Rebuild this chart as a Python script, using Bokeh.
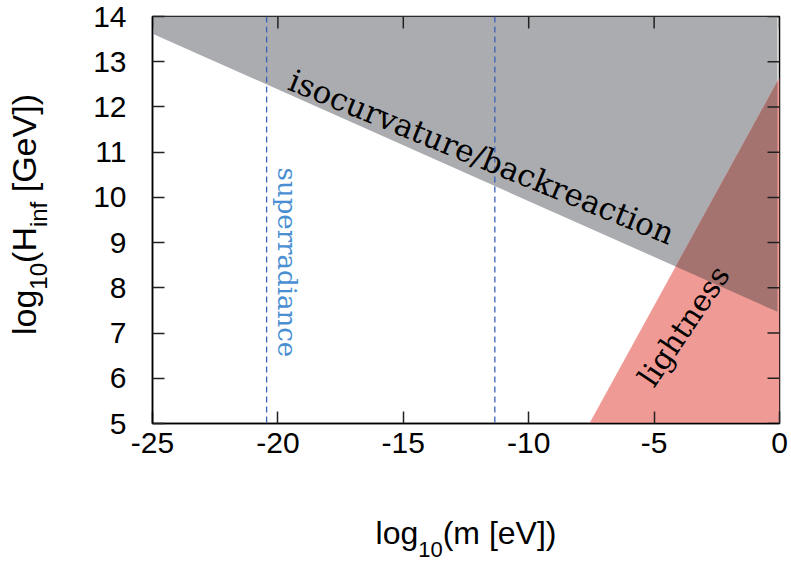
from bokeh.plotting import figure
from bokeh.models import Label, Span, FixedTicker
from bokeh.layouts import row, column
from bokeh.core.properties import value
from bokeh.embed import file_html
from bokeh.resources import INLINE

# ---- data ----
x_start, x_end = -25, 0
y_start, y_end = 5, 14
x_ticks = [-25, -20, -15, -10, -5, 0]
x_tick_labels = ["-25", "-20", "-15", "-10", "-5", "0"]
y_ticks = [5, 6, 7, 8, 9, 10, 11, 12, 13, 14]
y_tick_labels = ["5", "6", "7", "8", "9", "10", "11", "12", "13", "14"]

# isocurvature/backreaction bound (excluded above the line)
iso_x = [-25.0, -0.08]
iso_y = [13.62, 7.47]
# lightness bound (excluded right of the line)
light_x = [-7.58, 0.0]
light_y = [5.0, 12.65]
# superradiance window edges
superrad_x = [-20.45, -11.35]

GRAY = "#abacaf"
RED = "#ef9a94"
OVERLAP = "#a47370"
BLUE_LINE = "#3a62b8"
BLUE_TEXT = "#4a8fd2"
TICK = "#222222"

def iso(x):
    return iso_y[0] + (iso_y[1] - iso_y[0]) * (x - iso_x[0]) / (iso_x[1] - iso_x[0])

def light(x):
    return light_y[0] + (light_y[1] - light_y[0]) * (x - light_x[0]) / (light_x[1] - light_x[0])

s1 = (iso_y[1] - iso_y[0]) / (iso_x[1] - iso_x[0])
s2 = (light_y[1] - light_y[0]) / (light_x[1] - light_x[0])
xi = (light_y[0] - s2 * light_x[0] - iso_y[0] + s1 * iso_x[0]) / (s1 - s2)
yi = iso(xi)

# ---- layout sizes (pixels) ----
TOTAL_W, TOTAL_H = 791, 563
YT_W = 70
XT_H = 75
MAIN_W = TOTAL_W - YT_W
MAIN_H = TOTAL_H - XT_H

p = figure(width=MAIN_W, height=MAIN_H, output_backend="svg", toolbar_location=None,
           x_range=(x_start, x_end), y_range=(y_start, y_end), title=None,
           min_border_left=82, min_border_right=12, min_border_top=16, min_border_bottom=65)
p.grid.visible = False
p.background_fill_color = "white"
p.border_fill_color = "white"
p.outline_line_color = "black"
p.outline_line_width = 1.5

p.patch([iso_x[0], iso_x[1], iso_x[1], iso_x[0]], [iso_y[0], iso_y[1], y_end, y_end],
        fill_color=GRAY, line_color=None)
p.patch([light_x[0], light_x[1], light_x[1]], [light_y[0], light_y[1], y_start],
        fill_color=RED, line_color=None)
p.patch([xi, iso_x[1], iso_x[1]], [yi, light(iso_x[1]), iso(iso_x[1])],
        fill_color=OVERLAP, line_color=None)

for xv in superrad_x:
    p.add_layout(Span(location=xv, dimension="height", line_color=BLUE_LINE,
                      line_width=1.3, line_dash="6 4"))

p.xaxis.ticker = FixedTicker(ticks=x_ticks)
p.yaxis.ticker = FixedTicker(ticks=y_ticks)
p.xaxis.major_label_overrides = dict(zip(x_ticks, x_tick_labels))
p.yaxis.major_label_overrides = dict(zip(y_ticks, y_tick_labels))
for ax in (p.xaxis[0], p.yaxis[0]):
    ax.major_tick_in = 12
    ax.major_tick_out = 0
    ax.minor_tick_in = 0
    ax.minor_tick_out = 0
    ax.major_tick_line_color = TICK
    ax.major_tick_line_width = 1.5
    ax.axis_line_color = "black"
    ax.axis_line_width = 1.5
    ax.major_label_text_font = "Liberation Sans"
    ax.major_label_text_font_size = "30px"
    ax.major_label_text_color = "black"
p.xaxis.major_label_standoff = 9
p.yaxis.major_label_standoff = 26

# mirrored inward ticks on top and right
p.ray(x=x_ticks, y=[y_end] * len(x_ticks), length=12, length_units="screen",
      angle=-90, angle_units="deg", line_color=TICK, line_width=1.5)
p.ray(x=[x_end] * len(y_ticks), y=y_ticks, length=12, length_units="screen",
      angle=180, angle_units="deg", line_color=TICK, line_width=1.5)

# region labels
p.add_layout(Label(x=-19.50, y=12.62, text="isocurvature/backreaction", angle=-22.2,
                   angle_units="deg", text_font="DejaVu Serif", text_font_size="31px",
                   text_color="black", text_align="left", text_baseline="alphabetic"))
p.add_layout(Label(x=-19.62, y=10.66, text="superradiance", angle=-90,
                   angle_units="deg", text_font="DejaVu Serif", text_font_size="26px",
                   text_color=BLUE_TEXT, text_align="left", text_baseline="alphabetic"))
p.add_layout(Label(x=-5.35, y=5.90, text="lightness", angle=56,
                   angle_units="deg", text_font="DejaVu Serif", text_font_size="30px",
                   text_color="black", text_align="left", text_baseline="alphabetic"))

# ---- axis titles (main text + subscripts) ----
W = {'l': .222, 'o': .556, 'g': .556, '1': .556, '0': .556, '(': .333, 'm': .833, ' ': .278,
     '[': .278, 'e': .556, 'V': .667, ']': .278, ')': .333, 'H': .722, 'i': .222, 'n': .556,
     'f': .278, 'G': .778}
MID = 0.34   # distance from baseline to the "middle" anchor, in em

def width(t, size):
    return sum(W.get(c, .556) for c in t) * size

def strip(w, h, xr, yr):
    f = figure(width=w, height=h, output_backend="svg", toolbar_location=None, title=None,
               x_range=xr, y_range=yr, min_border=0,
               min_border_left=0, min_border_right=0, min_border_top=0, min_border_bottom=0,
               x_axis_type=None, y_axis_type=None)
    f.grid.visible = False
    f.outline_line_color = None
    f.background_fill_color = "white"
    f.border_fill_color = "white"
    return f

# x title: strip whose frame lines up with the main frame
XM, XS = 32, 22
xt = strip(MAIN_W, XT_H, p.x_range, (0, XT_H))
x_pieces = [("log", XM, False), ("10", XS, True), ("(m [eV])", XM, False)]
x_base = XT_H - (543 - MAIN_H)   # baseline, pixels from strip bottom
total = sum(width(t, s) for t, s, _ in x_pieces)
cum = -total / 2
for t, s, sub in x_pieces:
    base = x_base - 13 if sub else x_base
    xt.text(x=[(x_start + x_end) / 2], y=[base + MID * s], x_offset=cum, text=[t],
            text_font=value("Liberation Sans"), text_font_size=value(f"{s}px"),
            text_color="black", text_align="left", text_baseline="middle")
    cum += width(t, s)

# y title (rotated, reading upwards)
YM, YS = 34, 24
yt = strip(YT_W, TOTAL_H, (0, YT_W), (0, TOTAL_H))
y_pieces = [("log", YM, False, 0), ("10", YS, True, 0), ("(H", YM, False, 0),
            ("inf", YS, True, 0), ("[GeV])", YM, False, width(" ", YM))]
y_center = TOTAL_H - 214
total = sum(width(t, s) + g for t, s, _, g in y_pieces)
cum = y_center - total / 2
for t, s, sub, g in y_pieces:
    cum += g
    base = 46 if sub else 35
    yt.text(x=[base - MID * s], y=[cum], text=[t], angle=90, angle_units="deg",
            text_font=value("Liberation Sans"), text_font_size=value(f"{s}px"),
            text_color="black", text_align="left", text_baseline="middle")
    cum += width(t, s)

layout = row(yt, column(p, xt))
open("out.html", "w").write(file_html(layout, INLINE))
